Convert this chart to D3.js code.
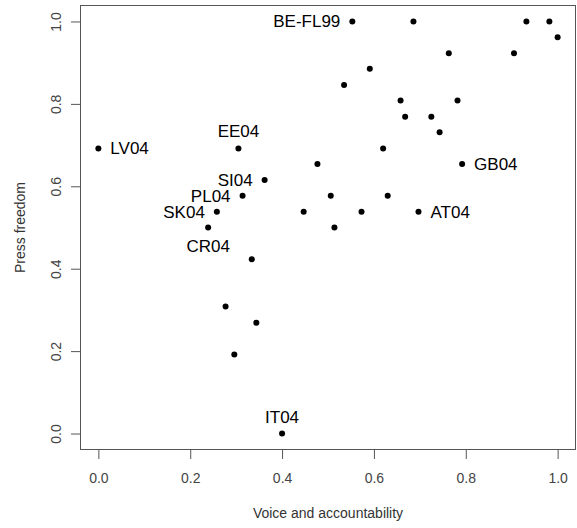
<!DOCTYPE html>
<html>
<head>
<meta charset="utf-8">
<script src="https://cdn.jsdelivr.net/npm/d3@7"></script>
<style>
  body { margin: 0; background: #fff; }
  text { font-family: "Liberation Sans", Arial, sans-serif; }
</style>
</head>
<body>
<div id="container"></div>
<script>
/* DATA */
const voice = [0.000, 0.305, 0.362, 0.314, 0.258, 0.239, 0.334, 0.277, 0.344, 0.296,
  0.400, 0.553, 0.686, 0.932, 0.982, 1.000, 0.763, 0.905, 0.591, 0.535,
  0.658, 0.782, 0.668, 0.725, 0.743, 0.620, 0.477, 0.792, 0.506, 0.630,
  0.447, 0.573, 0.697, 0.514];
const press = [0.692, 0.692, 0.615, 0.577, 0.538, 0.500, 0.423, 0.308, 0.269, 0.192,
  0.000, 1.000, 1.000, 1.000, 1.000, 0.962, 0.923, 0.923, 0.885, 0.846,
  0.808, 0.808, 0.769, 0.769, 0.731, 0.692, 0.654, 0.654, 0.577, 0.577,
  0.538, 0.538, 0.538, 0.500];
// label for each point ("" = no label) and where it sits
const labels = ["LV04", "EE04", "SI04", "PL04", "SK04", "CR04", "", "", "", "",
  "IT04", "BE-FL99", "", "", "", "", "", "", "", "",
  "", "", "", "", "", "", "", "GB04", "", "",
  "", "", "AT04", ""];
const labelPos = ["right", "above", "left", "left", "left", "below", "", "", "", "",
  "above", "left", "", "", "", "", "", "", "", "",
  "", "", "", "", "", "", "", "right", "", "",
  "", "", "right", ""];
const ticks = [0, 0.2, 0.4, 0.6, 0.8, 1.0];

/* CONSTANTS */
const width = 577,
  height = 528,
  margin = { top: 5, bottom: 78, left: 80, right: 1 },
  radius = 3;

const svg = d3.select("#container")
  .append("svg")
  .attr("width", width)
  .attr("height", height);

// R style 4% padding on each side
const xScale = d3.scaleLinear()
  .domain([-0.04, 1.04])
  .range([margin.left, width - margin.right]);

const yScale = d3.scaleLinear()
  .domain([-0.04, 1.04])
  .range([height - margin.bottom, margin.top]);

// plot box
svg.append("rect")
  .attr("x", margin.left + 0.5)
  .attr("y", margin.top + 0.5)
  .attr("width", width - margin.left - margin.right - 1)
  .attr("height", height - margin.top - margin.bottom - 1)
  .attr("fill", "none")
  .attr("stroke", "#555");

// x axis
const xAxis = d3.axisBottom(xScale)
  .tickValues(ticks)
  .tickFormat(d3.format(".1f"))
  .tickSize(9)
  .tickPadding(14);

const xAxisGroup = svg.append("g")
  .attr("transform", `translate(0, ${height - margin.bottom})`)
  .call(xAxis);
xAxisGroup.select(".domain").remove();
xAxisGroup.selectAll("line").attr("stroke", "#555");
xAxisGroup.selectAll("text")
  .attr("font-size", 14)
  .attr("fill", "#444")
  .attr("font-family", "Liberation Sans, Arial, sans-serif");

// y axis
const yAxis = d3.axisLeft(yScale)
  .tickValues(ticks)
  .tickFormat(d3.format(".1f"))
  .tickSize(9)
  .tickPadding(0);

const yAxisGroup = svg.append("g")
  .attr("transform", `translate(${margin.left}, 0)`)
  .call(yAxis);
yAxisGroup.select(".domain").remove();
yAxisGroup.selectAll("line").attr("stroke", "#555");
yAxisGroup.selectAll("text")
  .attr("font-size", 14)
  .attr("fill", "#444")
  .attr("font-family", "Liberation Sans, Arial, sans-serif")
  .attr("x", null)
  .attr("text-anchor", "middle")
  .attr("transform", "translate(-24, 0) rotate(-90)")
  .attr("y", 0)
  .attr("dy", "0.35em");

// axis titles
svg.append("text")
  .attr("x", (margin.left + width - margin.right) / 2)
  .attr("y", 518)
  .attr("text-anchor", "middle")
  .attr("font-size", 14)
  .attr("fill", "#333")
  .text("Voice and accountability");

svg.append("text")
  .attr("transform", `translate(25, ${(margin.top + height - margin.bottom) / 2}) rotate(-90)`)
  .attr("text-anchor", "middle")
  .attr("font-size", 14)
  .attr("fill", "#333")
  .text("Press freedom");

// points
const points = voice.map((v, i) => ({ x: v, y: press[i], label: labels[i], pos: labelPos[i] }));

svg.selectAll("circle.pt")
  .data(points)
  .join("circle")
  .attr("class", "pt")
  .attr("cx", d => xScale(d.x))
  .attr("cy", d => yScale(d.y))
  .attr("r", radius)
  .attr("fill", "#000");

// labels
svg.selectAll("text.lbl")
  .data(points.filter(d => d.label !== ""))
  .join("text")
  .attr("class", "lbl")
  .attr("font-size", 17)
  .attr("fill", "#000")
  .attr("text-anchor", d => d.pos === "left" ? "end" : d.pos === "right" ? "start" : "middle")
  .attr("x", d => xScale(d.x) + (d.pos === "left" ? -12 : d.pos === "right" ? 12 : 0))
  .attr("y", d => yScale(d.y) + (d.pos === "above" ? -11 : d.pos === "below" ? 24 : 6))
  .text(d => d.label);
</script>
</body>
</html>
